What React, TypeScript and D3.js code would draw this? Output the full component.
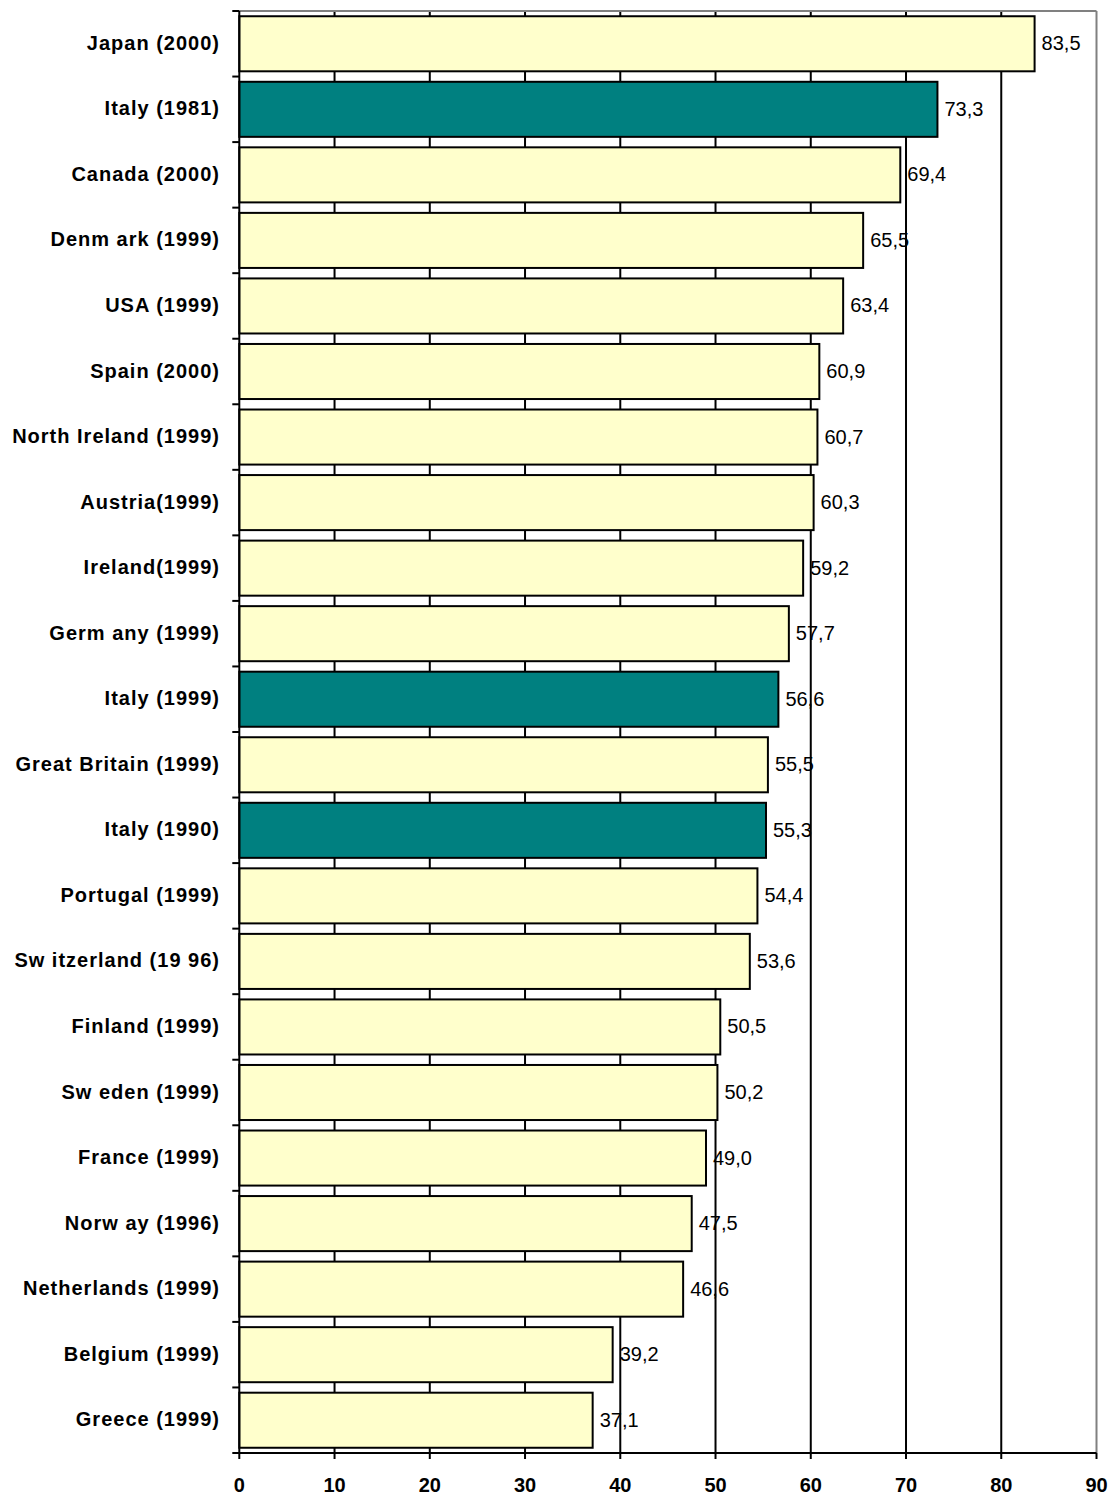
import React from 'react';
import * as d3 from 'd3';

const categories: string[] = [
  'Japan (2000)',
  'Italy (1981)',
  'Canada (2000)',
  'Denm ark (1999)',
  'USA (1999)',
  'Spain (2000)',
  'North Ireland (1999)',
  'Austria(1999)',
  'Ireland(1999)',
  'Germ any (1999)',
  'Italy (1999)',
  'Great Britain (1999)',
  'Italy (1990)',
  'Portugal (1999)',
  'Sw itzerland (19 96)',
  'Finland (1999)',
  'Sw eden (1999)',
  'France (1999)',
  'Norw ay (1996)',
  'Netherlands (1999)',
  'Belgium (1999)',
  'Greece (1999)',
];

const values: number[] = [
  83.5, 73.3, 69.4, 65.5, 63.4, 60.9, 60.7, 60.3, 59.2, 57.7, 56.6,
  55.5, 55.3, 54.4, 53.6, 50.5, 50.2, 49.0, 47.5, 46.6, 39.2, 37.1,
];

// bars for Italy get the dark fill
const highlighted: string[] = ['Italy (1981)', 'Italy (1999)', 'Italy (1990)'];

const xTicks: number[] = [0, 10, 20, 30, 40, 50, 60, 70, 80, 90];

const width = 1113;
const height = 1496;
const margin = { top: 11, right: 16.5, bottom: 43, left: 239.3 };

const App: React.FC = () => {
  const x = d3.scaleLinear()
    .domain([0, 90])
    .range([margin.left, width - margin.right]);

  const y = d3.scaleBand<string>()
    .domain(categories)
    .range([margin.top, height - margin.bottom])
    .paddingInner(0.16)
    .paddingOuter(0.08);

  const step = y.step();
  const top = margin.top;
  const bottom = height - margin.bottom;
  const left = x(0);
  const right = x(90);
  const fmt = (v: number) => v.toFixed(1).replace('.', ',');

  return (
    <svg
      width={width}
      height={height}
      style={{ position: 'absolute', left: 0, top: 0, background: '#fff' }}
      fontFamily="'Liberation Sans', Arial, sans-serif"
    >
      {/* gridlines */}
      {xTicks.slice(1, -1).map(t => (
        <line key={'g' + t} x1={x(t)} x2={x(t)} y1={top} y2={bottom} stroke="#000" strokeWidth={2} />
      ))}
      {/* plot border top / right */}
      <line x1={left} x2={right} y1={top} y2={top} stroke="#808080" strokeWidth={2} />
      <line x1={right} x2={right} y1={top} y2={bottom} stroke="#808080" strokeWidth={2} />

      {/* bars */}
      {categories.map((c, i) => (
        <rect
          key={c}
          x={x(0)}
          y={y(c)!}
          width={x(values[i]) - x(0)}
          height={y.bandwidth()}
          fill={highlighted.includes(c) ? '#008080' : '#FFFFCC'}
          stroke="#000"
          strokeWidth={2}
        />
      ))}

      {/* value labels */}
      {categories.map((c, i) => (
        <text
          key={'v' + c}
          x={x(values[i]) + 7}
          y={y(c)! + y.bandwidth() / 2 + 6.5}
          fontSize={20}
          fill="#000"
        >
          {fmt(values[i])}
        </text>
      ))}

      {/* left axis */}
      <line x1={left} x2={left} y1={top} y2={bottom} stroke="#000" strokeWidth={2} />
      {d3.range(categories.length + 1).map(i => (
        <line key={'lt' + i} x1={left - 7} x2={left} y1={top + i * step} y2={top + i * step} stroke="#000" strokeWidth={2} />
      ))}
      {categories.map(c => (
        <text
          key={'l' + c}
          x={220}
          y={y(c)! + y.bandwidth() / 2 + 6}
          fontSize={20}
          fontWeight="bold"
          letterSpacing={1}
          textAnchor="end"
          fill="#000"
        >
          {c}
        </text>
      ))}

      {/* bottom axis */}
      <line x1={left} x2={right} y1={bottom} y2={bottom} stroke="#000" strokeWidth={2} />
      {xTicks.map(t => (
        <g key={'xt' + t}>
          <line x1={x(t)} x2={x(t)} y1={bottom} y2={bottom + 6} stroke="#000" strokeWidth={2} />
          <text x={x(t)} y={bottom + 39} fontSize={20} fontWeight="bold" textAnchor="middle" fill="#000">
            {t}
          </text>
        </g>
      ))}
    </svg>
  );
};

export default App;
